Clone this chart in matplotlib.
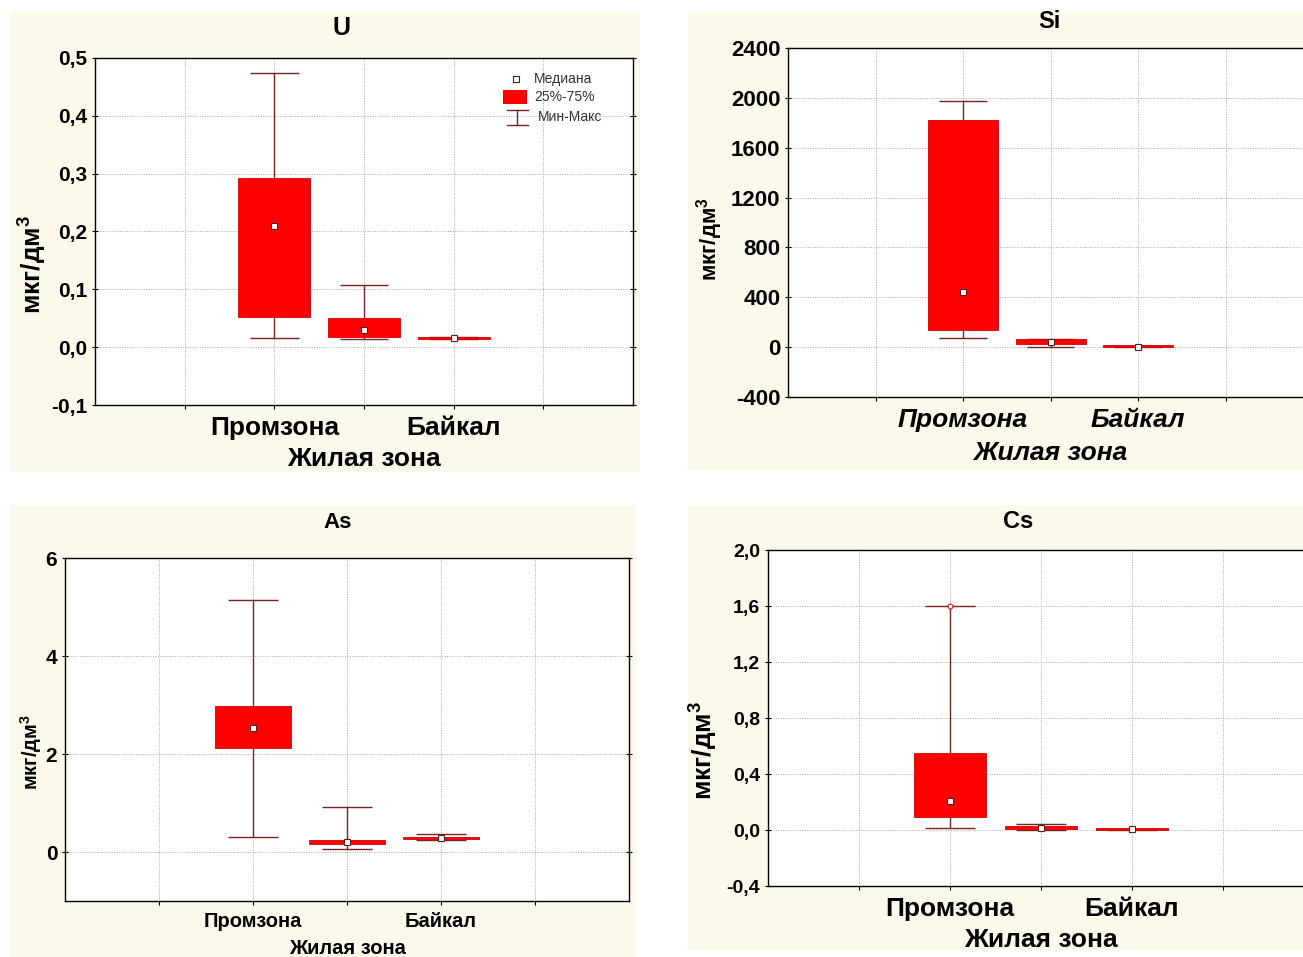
import numpy as np
import matplotlib
matplotlib.use("Agg")
import matplotlib.pyplot as plt
from matplotlib.patches import Rectangle
from matplotlib.lines import Line2D

plt.rcParams["font.family"] = ["Liberation Sans", "DejaVu Sans"]
plt.rcParams["mathtext.fontset"] = "custom"
plt.rcParams["mathtext.rm"] = "Liberation Sans:bold"
plt.rcParams["mathtext.bf"] = "Liberation Sans:bold"

W, H = 1303, 957

# --- data: categories and box statistics ---------------------------------
categories = ["Промзона", "Жилая зона", "Байкал"]

u_min = [0.015, 0.014, 0.014]
u_q25 = [0.053, 0.017, 0.014]
u_med = [0.210, 0.029, 0.016]
u_q75 = [0.293, 0.050, 0.018]
u_max = [0.474, 0.107, 0.018]

si_min = [72, 5, 2]
si_q25 = [136, 22, 3]
si_med = [440, 38, 5]
si_q75 = [1824, 62, 7]
si_max = [1976, 68, 8]

as_min = [0.30, 0.06, 0.25]
as_q25 = [2.13, 0.17, 0.26]
as_med = [2.54, 0.21, 0.28]
as_q75 = [2.98, 0.24, 0.31]
as_max = [5.15, 0.91, 0.36]

cs_min = [0.014, 0.000, 0.000]
cs_q25 = [0.093, 0.008, 0.003]
cs_med = [0.207, 0.015, 0.005]
cs_q75 = [0.550, 0.030, 0.007]
cs_max = [1.600, 0.045, 0.008]
cs_extreme = [1.600]

u_ticks = [-0.1, 0.0, 0.1, 0.2, 0.3, 0.4, 0.5]
u_ticklabels = ["-0,1", "0,0", "0,1", "0,2", "0,3", "0,4", "0,5"]
si_ticks = [-400, 0, 400, 800, 1200, 1600, 2000, 2400]
si_ticklabels = [str(t) for t in si_ticks]
as_ticks = [0, 2, 4, 6]
as_ticklabels = ["0", "2", "4", "6"]
cs_ticks = [-0.4, 0.0, 0.4, 0.8, 1.2, 1.6, 2.0]
cs_ticklabels = ["-0,4", "0,0", "0,4", "0,8", "1,2", "1,6", "2,0"]

CREAM = "#fcf9ea"
RED = "#ff0000"
WHISK = "#7a2323"
YLABEL = r"мкг/дм$^\mathbf{3}$"


def px_axes(l, t, r, b):
    return [l / W, 1 - b / H, (r - l) / W, (b - t) / H]


def cream(fig, l, t, r, b):
    fig.patches.append(Rectangle((l / W, 1 - b / H), (r - l) / W, (b - t) / H,
                                 transform=fig.transFigure, fc=CREAM,
                                 ec="none", zorder=-10))


def boxpanel(fig, rect, mins, q25, med, q75, maxs, ylim, ticks, ticklabels,
             title, title_xy, title_fs, ytick_fs, xtick_fs, ylab_fs, ylab_xy,
             xlab_y, italic=False):
    l, t, r, b = rect
    ax = fig.add_axes(px_axes(*rect))
    ax.set_facecolor("white")
    pos = np.arange(2, 2 + len(categories))
    mins, q25, med, q75, maxs = map(np.asarray, (mins, q25, med, q75, maxs))

    ax.vlines(pos, mins, maxs, color=WHISK, lw=1.0, zorder=2)
    ax.hlines(mins, pos - 0.27, pos + 0.27, color=WHISK, lw=1.0, zorder=2)
    ax.hlines(maxs, pos - 0.27, pos + 0.27, color=WHISK, lw=1.0, zorder=2)
    hgt = np.maximum(q75 - q25, (ylim[1] - ylim[0]) * 0.006)
    ax.bar(pos, hgt, bottom=q25, width=0.8, color=RED, ec="#d40000",
           lw=0.6, zorder=3)
    ax.plot(pos, med, ls="none", marker="s", ms=4.5, mfc="white",
            mec="#5a1a1a", mew=0.8, zorder=4)

    style = "italic" if italic else "normal"
    ax.set_xlim(0, 6)
    ax.set_ylim(*ylim)
    ax.set_xticks([1, 2, 3, 4, 5])
    ax.set_xticklabels(["", categories[0], "", categories[2], ""],
                       fontsize=xtick_fs, fontweight="bold", fontstyle=style)
    ax.set_xlabel(categories[1], fontsize=xtick_fs, fontweight="bold",
                  fontstyle=style, va="center")
    ax.xaxis.set_label_coords(0.5, (b - xlab_y) / (b - t))
    ax.set_yticks(ticks)
    ax.set_yticklabels(ticklabels, fontsize=ytick_fs, fontweight="bold")
    ax.tick_params(axis="x", direction="out", length=3, width=0.8, pad=5)
    ax.tick_params(axis="y", direction="inout", length=5, width=0.8,
                   right=True, pad=3)
    ax.grid(True, ls=(0, (1, 1.5)), lw=0.7, color="#a8a8a8")
    ax.set_axisbelow(True)
    for s in ax.spines.values():
        s.set_linewidth(1.0)
        s.set_color("black")
    ax.set_ylabel(YLABEL, fontsize=ylab_fs, fontweight="bold", va="center")
    ax.yaxis.set_label_coords((ylab_xy[0] - l) / (r - l),
                              (b - ylab_xy[1]) / (b - t))
    fig.text(title_xy[0] / W, 1 - title_xy[1] / H, title, fontsize=title_fs,
             fontweight="bold", ha="center", va="center")
    return ax


fig = plt.figure(figsize=(W / 100, H / 100), dpi=100)
fig.patch.set_facecolor("white")

cream(fig, 10, 12, 640, 472)
cream(fig, 688, 12, 1303, 470)
cream(fig, 10, 505, 636, 957)
cream(fig, 688, 505, 1303, 950)

# U
ax_u = boxpanel(fig, (95, 58, 633, 405), u_min, u_q25, u_med, u_q75, u_max,
                (-0.1, 0.5), u_ticks, u_ticklabels, "U", (342, 28), 18,
                15, 19, 19, (32, 264), 459)

# legend drawn in U panel (pixel positions -> axes fraction)
def lp(px, py):
    return ((px - 95) / 538, 1 - (py - 58) / 347)

tr = ax_u.transAxes
x0, y0 = lp(503, 90)
x1, y1 = lp(527, 104)
ax_u.add_patch(Rectangle((x0, y1), x1 - x0, y0 - y1, transform=tr,
                         fc=RED, ec="none", zorder=6))
mx, my = lp(516, 79)
ax_u.add_line(Line2D([mx], [my], transform=tr, ls="none", marker="s",
                     ms=4, mfc="white", mec="#5a1a1a", mew=0.8, zorder=6))
wx, wt = lp(517, 110)
_, wb = lp(517, 125)
ca, _ = lp(507, 0)
cb, _ = lp(528, 0)
ax_u.add_line(Line2D([wx, wx], [wt, wb], transform=tr, color=WHISK, lw=1))
ax_u.add_line(Line2D([ca, cb], [wt, wt], transform=tr, color=WHISK, lw=1))
ax_u.add_line(Line2D([ca, cb], [wb, wb], transform=tr, color=WHISK, lw=1))
for txt, px, py in [("Медиана", 534, 79), ("25%-75%", 534, 97),
                    ("Мин-Макс", 538, 117)]:
    tx, ty = lp(px, py)
    ax_u.text(tx, ty, txt, transform=tr, fontsize=10, color="#333333",
              va="center", ha="left", zorder=6)

# Si
boxpanel(fig, (788, 48, 1313, 397), si_min, si_q25, si_med, si_q75, si_max,
         (-400, 2400), si_ticks, si_ticklabels, "Si", (1049, 22), 17,
         16, 19, 16, (710, 239), 453, italic=True)

# As
boxpanel(fig, (65, 558, 629, 901), as_min, as_q25, as_med, as_q75, as_max,
         (-1, 6), as_ticks, as_ticklabels, "As", (338, 523), 16,
         15, 14.5, 14.5, (31, 752), 948)

# Cs
ax_cs = boxpanel(fig, (768, 550, 1314, 886), cs_min, cs_q25, cs_med, cs_q75,
                 cs_max, (-0.4, 2.0), cs_ticks, cs_ticklabels, "Cs",
                 (1018, 522), 17, 14, 19, 19, (703, 750), 940)
ax_cs.plot([2] * len(cs_extreme), cs_extreme, ls="none", marker="o", ms=3.5,
           mfc="white", mec="#d02020", mew=0.8, zorder=5)

fig.savefig("out.png", dpi=100)
